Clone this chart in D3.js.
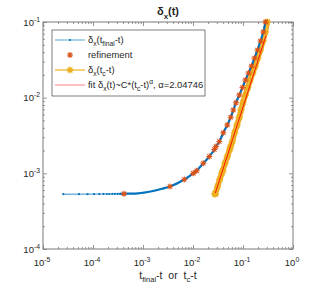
<!DOCTYPE html>
<html>
<head>
<meta charset="UTF-8">
<script src="https://d3js.org/d3.v7.min.js"></script>
<style>
  body { margin: 0; background: #fff; }
  svg text { font-family: "Liberation Sans", Arial, sans-serif; fill: #262626; white-space: pre; }
</style>
</head>
<body>
<div id="chart"></div>
<script>
// blue: delta_x vs t_final - t (sparse dots on the left, dense part after)
var blueDotT = [2.55e-5, 5.25e-5, 7.8e-5, 1.05e-4, 1.34e-4, 1.61e-4, 1.88e-4, 2.12e-4, 2.43e-4, 2.75e-4, 3.12e-4, 3.47e-4];
var blueDotD = [5.30e-4, 5.31e-4, 5.31e-4, 5.32e-4, 5.32e-4, 5.33e-4, 5.33e-4, 5.33e-4, 5.34e-4, 5.34e-4, 5.35e-4, 5.35e-4];
var blueCurveT = [3.47e-4, 4.17e-4, 8e-4, 1.5e-3, 2.4e-3, 3.47e-3, 6.70e-3, 1.014e-2, 1.186e-2, 1.607e-2, 2.12e-2, 2.67e-2, 2.88e-2, 3.36e-2, 4.04e-2, 4.85e-2, 5.68e-2, 6.40e-2, 7.24e-2, 8.43e-2, 9.77e-2, 0.112, 0.129, 0.148, 0.170, 0.195, 0.224, 0.255, 0.283];
var blueCurveD = [5.35e-4, 5.38e-4, 5.45e-4, 5.8e-4, 6.25e-4, 6.70e-4, 8.28e-4, 1.0e-3, 1.084e-3, 1.357e-3, 1.668e-3, 2.065e-3, 2.26e-3, 2.63e-3, 3.44e-3, 4.35e-3, 5.50e-3, 6.87e-3, 8.58e-3, 1.084e-2, 1.36e-2, 1.71e-2, 2.12e-2, 2.62e-2, 3.34e-2, 4.27e-2, 5.61e-2, 7.38e-2, 0.1];

// refinement points
var refT = [4.17e-4, 3.47e-3, 6.70e-3, 1.014e-2, 1.186e-2, 1.607e-2, 2.12e-2, 2.67e-2, 2.88e-2, 3.36e-2, 4.04e-2, 4.85e-2, 5.68e-2, 6.40e-2, 7.24e-2, 8.43e-2, 9.77e-2, 0.112, 0.129, 0.148, 0.170, 0.195, 0.224, 0.255, 0.283];
var refD = [5.38e-4, 6.70e-4, 8.28e-4, 1.0e-3, 1.084e-3, 1.357e-3, 1.668e-3, 2.065e-3, 2.26e-3, 2.63e-3, 3.44e-3, 4.35e-3, 5.50e-3, 6.87e-3, 8.58e-3, 1.084e-2, 1.36e-2, 1.71e-2, 2.12e-2, 2.62e-2, 3.34e-2, 4.27e-2, 5.61e-2, 7.38e-2, 0.1];

// yellow: delta_x vs t_c - t
var yellowT = [0.0275, 0.0279, 0.031, 0.0342, 0.0376, 0.0394, 0.0436, 0.0487, 0.0542, 0.0563, 0.0611, 0.0679, 0.076, 0.0843, 0.0915, 0.0999, 0.1118, 0.125, 0.1395, 0.1565, 0.1755, 0.1975, 0.2225, 0.2515, 0.2795, 0.305];
var yellowD = [5.33e-4, 5.38e-4, 6.70e-4, 8.28e-4, 1.0e-3, 1.084e-3, 1.357e-3, 1.668e-3, 2.065e-3, 2.26e-3, 2.63e-3, 3.44e-3, 4.35e-3, 5.50e-3, 6.87e-3, 8.58e-3, 1.084e-2, 1.36e-2, 1.71e-2, 2.12e-2, 2.62e-2, 3.34e-2, 4.27e-2, 5.61e-2, 7.38e-2, 0.1];

// power-law fit line endpoints
var fitT = [0.028, 0.288];
var fitD = [5.5e-4, 0.066];

var xTicks = [1e-5, 1e-4, 1e-3, 1e-2, 1e-1, 1];
var xTickExp = ["-5", "-4", "-3", "-2", "-1", "0"];
var yTicks = [1e-4, 1e-3, 1e-2, 1e-1];
var yTickExp = ["-4", "-3", "-2", "-1"];

var W = 324, H = 288;
var pLeft = 43, pRight = 293, pTop = 22, pBottom = 249;

var svg = d3.select("#chart").append("svg").attr("width", W).attr("height", H);

var x = d3.scaleLog().domain([1e-5, 1]).range([pLeft, pRight]);
var y = d3.scaleLog().domain([1e-4, 1e-1]).range([pBottom, pTop]);

var zip = function (a, b) { return a.map(function (v, i) { return [v, b[i]]; }); };
var line = d3.line().x(function (d) { return x(d[0]); }).y(function (d) { return y(d[1]); });
var smooth = d3.line().curve(d3.curveMonotoneX).x(function (d) { return x(d[0]); }).y(function (d) { return y(d[1]); });

// rich text helper for sub/superscripts
function rich(sel, parts, size) {
    var shift = 0;
    parts.forEach(function (p) {
        var t = sel.append("tspan").text(p[0]);
        var target = p[1] === "sub" ? size * 0.32 : (p[1] === "sup" ? -size * 0.42 : 0);
        t.attr("dy", target - shift);
        if (p[1]) t.attr("font-size", size * 0.72);
        shift = target;
    });
}

function star(r) {
    var a = r * 0.72;
    return "M" + (-r) + ",0L" + r + ",0M0," + (-r) + "L0," + r +
        "M" + (-a) + "," + (-a) + "L" + a + "," + a + "M" + (-a) + "," + a + "L" + a + "," + (-a);
}

// minor ticks
var minorX = [], minorY = [];
for (var e = -5; e < 0; e++) for (var m = 2; m < 10; m++) minorX.push(m * Math.pow(10, e));
for (var e2 = -4; e2 < -1; e2++) for (var m2 = 2; m2 < 10; m2++) minorY.push(m2 * Math.pow(10, e2));

var axisColor = "#7a7a7a";
function styleAxis(g) {
    g.select(".domain").remove();
    g.selectAll("line").attr("stroke", axisColor).attr("stroke-width", 0.8);
    g.selectAll("text").remove();
}
svg.append("g").attr("transform", "translate(0," + pBottom + ")")
    .call(d3.axisBottom(x).tickValues(xTicks).tickSize(-4)).call(styleAxis);
svg.append("g").attr("transform", "translate(0," + pBottom + ")")
    .call(d3.axisBottom(x).tickValues(minorX).tickSize(-2)).call(styleAxis);
svg.append("g").attr("transform", "translate(0," + pTop + ")")
    .call(d3.axisTop(x).tickValues(xTicks).tickSize(-4)).call(styleAxis);
svg.append("g").attr("transform", "translate(0," + pTop + ")")
    .call(d3.axisTop(x).tickValues(minorX).tickSize(-2)).call(styleAxis);
svg.append("g").attr("transform", "translate(" + pLeft + ",0)")
    .call(d3.axisLeft(y).tickValues(yTicks).tickSize(-4)).call(styleAxis);
svg.append("g").attr("transform", "translate(" + pLeft + ",0)")
    .call(d3.axisLeft(y).tickValues(minorY).tickSize(-2)).call(styleAxis);
svg.append("g").attr("transform", "translate(" + pRight + ",0)")
    .call(d3.axisRight(y).tickValues(yTicks).tickSize(-4)).call(styleAxis);
svg.append("g").attr("transform", "translate(" + pRight + ",0)")
    .call(d3.axisRight(y).tickValues(minorY).tickSize(-2)).call(styleAxis);

svg.append("rect").attr("x", pLeft).attr("y", pTop).attr("width", pRight - pLeft).attr("height", pBottom - pTop)
    .attr("fill", "none").attr("stroke", axisColor).attr("stroke-width", 1);

// tick labels
xTicks.forEach(function (v, i) {
    var t = svg.append("text").attr("x", x(v) - 1).attr("y", pBottom + 17).attr("text-anchor", "middle").attr("font-size", 9.5);
    rich(t, [["10", ""], [xTickExp[i], "sup"]], 9.5);
});
yTicks.forEach(function (v, i) {
    var t = svg.append("text").attr("x", pLeft - 3).attr("y", y(v) + 3.5).attr("text-anchor", "end").attr("font-size", 9.5);
    rich(t, [["10", ""], [yTickExp[i], "sup"]], 9.5);
});

// title & axis label
var tt = svg.append("text").attr("x", (pLeft + pRight) / 2).attr("y", 15).attr("text-anchor", "middle")
    .attr("font-size", 11).attr("font-weight", "bold");
rich(tt, [["δ", ""], ["x", "sub"], ["(t)", ""]], 11);
var xl = svg.append("text").attr("x", (pLeft + pRight) / 2).attr("y", 279).attr("text-anchor", "middle").attr("font-size", 10.5);
rich(xl, [["t", ""], ["final", "sub"], ["-t  or  t", ""], ["c", "sub"], ["-t", ""]], 10.5);

var plot = svg.append("g");
var blue = "#0072BD", orange = "#D95319", yellow = "#EDB120", red = "#FF0000";

// yellow band
plot.append("path").attr("d", line(zip(yellowT, yellowD))).attr("fill", "none")
    .attr("stroke", "#EBA21A").attr("stroke-width", 5.5).attr("stroke-linecap", "round");
plot.append("path").attr("d", line(zip(yellowT, yellowD))).attr("fill", "none")
    .attr("stroke", "#F3C03A").attr("stroke-width", 2.5);
plot.selectAll(".ystar").data(zip(yellowT, yellowD)).enter().append("path")
    .attr("transform", function (d) { return "translate(" + x(d[0]) + "," + y(d[1]) + ")"; })
    .attr("d", star(3.6)).attr("stroke", yellow).attr("stroke-width", 1.5).attr("fill", "none");

// blue
plot.append("path").attr("d", line(zip(blueDotT, blueDotD))).attr("fill", "none")
    .attr("stroke", blue).attr("stroke-width", 0.8);
plot.selectAll(".bdot").data(zip(blueDotT, blueDotD)).enter().append("circle")
    .attr("cx", function (d) { return x(d[0]); }).attr("cy", function (d) { return y(d[1]); })
    .attr("r", 1.1).attr("fill", blue);
plot.append("path").attr("d", smooth(zip(blueCurveT, blueCurveD))).attr("fill", "none")
    .attr("stroke", blue).attr("stroke-width", 2.2);

// refinement stars
plot.selectAll(".rstar").data(zip(refT, refD)).enter().append("path")
    .attr("transform", function (d) { return "translate(" + x(d[0]) + "," + y(d[1]) + ")"; })
    .attr("d", star(3)).attr("stroke", orange).attr("stroke-width", 1.1).attr("fill", "none");

// fit
plot.append("path").attr("d", line(zip(fitT, fitD))).attr("fill", "none")
    .attr("stroke", red).attr("stroke-width", 0.9);

// legend
var lg = svg.append("g");
lg.append("rect").attr("x", 52).attr("y", 30).attr("width", 153).attr("height", 66)
    .attr("fill", "#fff").attr("stroke", "#262626").attr("stroke-width", 0.6);
var rows = [40, 55, 70, 85];
lg.append("line").attr("x1", 55).attr("x2", 85).attr("y1", rows[0]).attr("y2", rows[0]).attr("stroke", blue).attr("stroke-width", 0.8).attr("opacity", 0.8);
lg.append("circle").attr("cx", 70).attr("cy", rows[0]).attr("r", 1.1).attr("fill", blue);
lg.append("path").attr("transform", "translate(70," + rows[1] + ")").attr("d", star(3)).attr("stroke", orange).attr("stroke-width", 1.1).attr("fill", "none");
lg.append("line").attr("x1", 55).attr("x2", 85).attr("y1", rows[2]).attr("y2", rows[2]).attr("stroke", yellow).attr("stroke-width", 2).attr("opacity", 0.6);
lg.append("path").attr("transform", "translate(70," + rows[2] + ")").attr("d", star(3.4)).attr("stroke", yellow).attr("stroke-width", 1.3).attr("fill", "none");
lg.append("line").attr("x1", 55).attr("x2", 85).attr("y1", rows[3]).attr("y2", rows[3]).attr("stroke", red).attr("stroke-width", 1).attr("opacity", 0.5);

var labels = [
    [["δ", ""], ["x", "sub"], ["(t", ""], ["final", "sub"], ["-t)", ""]],
    [["refinement", ""]],
    [["δ", ""], ["x", "sub"], ["(t", ""], ["c", "sub"], ["-t)", ""]],
    [["fit δ", ""], ["x", "sub"], ["(t)~C*(t", ""], ["c", "sub"], ["-t)", ""], ["α", "sup"], [", α=2.04746", ""]]
];
labels.forEach(function (parts, i) {
    var t = lg.append("text").attr("x", 88).attr("y", rows[i] + 3).attr("font-size", 9.4);
    rich(t, parts, 9.4);
});
</script>
</body>
</html>
